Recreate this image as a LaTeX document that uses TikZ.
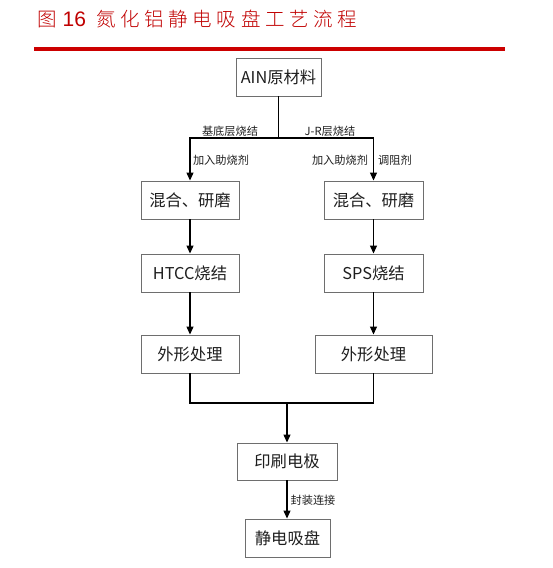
\documentclass[tikz,border=0pt]{standalone}
\usepackage{fontspec}
\setmainfont{Liberation Sans}
\newfontfamily\cjk{Noto Sans CJK SC}
\newfontfamily\cjktitle[LetterSpace=24]{Noto Sans CJK SC Light}
\usetikzlibrary{arrows.meta}
\definecolor{titlered}{RGB}{192,0,0}
\definecolor{linered}{RGB}{204,0,0}
\definecolor{boxgray}{RGB}{110,110,110}
\definecolor{txt}{RGB}{30,30,30}
\begin{document}
\begin{tikzpicture}[x=1pt,y=-1pt,
  stepbox/.style={draw=boxgray,line width=0.9pt,minimum height=38pt,inner sep=0pt,
    font=\cjk\fontsize{16.3}{17}\selectfont,text=txt},
  lbl/.style={font=\cjk\fontsize{11.2}{12}\selectfont,text=txt,inner sep=0pt},
  conn/.style={line width=1.1pt,black},
  arr/.style={conn,-{Triangle[width=7pt,length=8pt]}}]
\useasboundingbox (0,0) rectangle (553,568);
% title
\node[anchor=west,text=titlered,inner sep=0pt] (title) at (37,19)
  {\cjktitle\fontsize{19.5}{20}\selectfont 图\hspace{6pt}{\fontspec{Liberation Sans}\fontsize{21}{22}\selectfont 16}\hspace{10pt}氮化铝静电吸盘工艺流程};
\draw[linered,line width=3.5pt] (34,49) -- (505,49);
% boxes
\node[stepbox,minimum width=85pt] (raw) at (278.5,77) {AIN原材料};
\node[stepbox,minimum width=98pt] (mixL) at (190,200) {混合、研磨};
\node[stepbox,minimum width=99pt] (mixR) at (373.5,200) {混合、研磨};
\node[stepbox,minimum width=98pt] (htcc) at (190,273) {HTCC烧结};
\node[stepbox,minimum width=99pt] (sps) at (373.5,273) {SPS烧结};
\node[stepbox,minimum width=98pt] (shapeL) at (190,354) {外形处理};
\node[stepbox,minimum width=117pt] (shapeR) at (373.5,354) {外形处理};
\node[stepbox,minimum width=100pt,minimum height=37pt] (print) at (287,461.5) {印刷电极};
\node[stepbox,minimum width=85pt] (chuck) at (287.5,538) {静电吸盘};
% junctions
\coordinate (jt) at (278.5,138);
\coordinate (jb) at (287,403);
% connectors
\draw[conn] (raw.south) -- (jt);
\draw[arr] (jt) -| (mixL.north);
\draw[arr] (jt) -| (mixR.north);
\draw[arr] (mixL) -- (htcc);
\draw[arr] (mixR) -- (sps);
\draw[arr] (htcc) -- (shapeL);
\draw[arr] (sps.south) -- (sps.south |- shapeR.north);
\draw[conn] (shapeL.south) |- (jb);
\draw[conn] (sps.south |- shapeR.south) |- (jb);
\draw[arr] (jb) -- (print.north);
\draw[arr] (print.south) -- (print.south |- chuck.north);
% labels
\node[lbl] (l1) at (230,131) {基底层烧结};
\node[lbl] (l2) at (330,131) {J-R层烧结};
\node[lbl] (l3) at (221,160) {加入助烧剂};
\node[lbl] (l4) at (340,160) {加入助烧剂};
\node[lbl] (l5) at (395,160) {调阻剂};
\node[lbl] (l6) at (313,500) {封装连接};
\end{tikzpicture}
\end{document}
